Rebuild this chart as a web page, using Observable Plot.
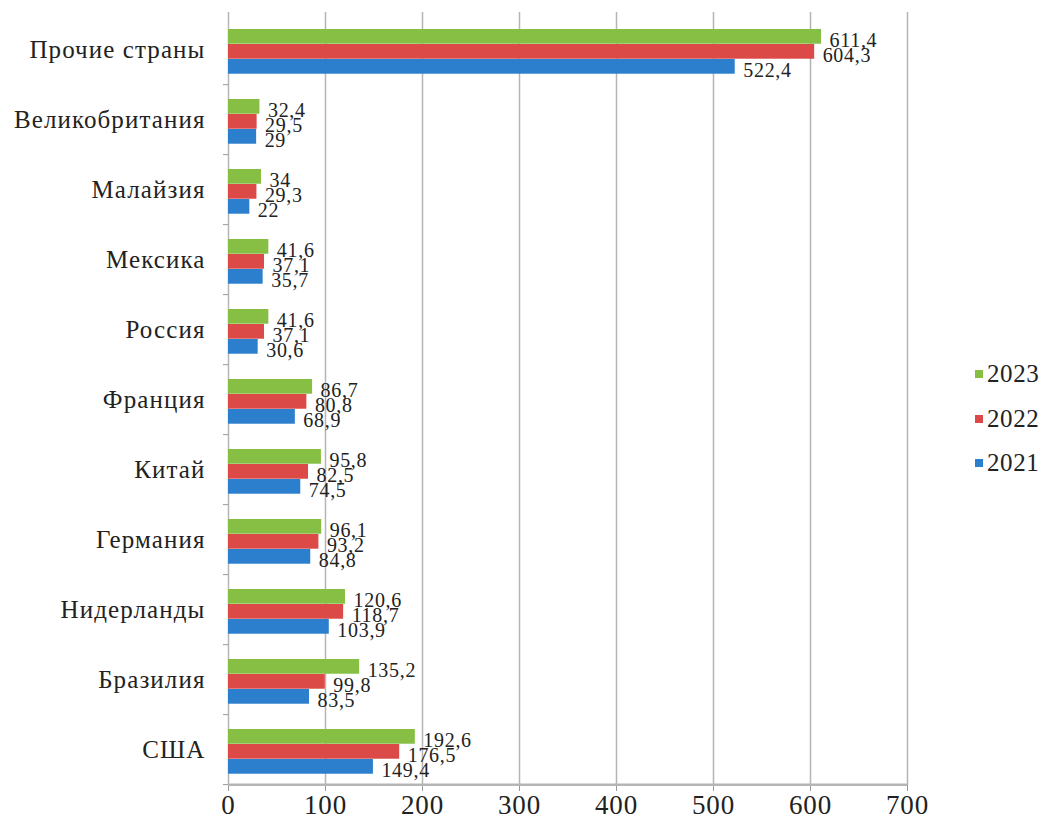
<!DOCTYPE html>
<html><head><meta charset="utf-8">
<script src="https://cdn.jsdelivr.net/npm/d3@7"></script>
<script src="https://cdn.jsdelivr.net/npm/@observablehq/plot@0.6"></script>
<style>
body{margin:0;background:#fff;font-family:'Liberation Serif',serif;overflow:hidden;}
#wrap{position:relative;width:1046px;height:835px;}
#chart svg, #chart svg text{font-family:'Liberation Serif',serif !important;}
#chart svg g[aria-label="y-axis tick label"] text{letter-spacing:1.1px;}
#chart svg g[aria-label="x-axis tick label"] text{letter-spacing:0.8px;}
#chart svg g.vlabels text{letter-spacing:0.7px;}
#legend{position:absolute;left:975px;top:352px;font-size:25px;color:#222;white-space:nowrap;letter-spacing:0.6px;}
#legend div{display:flex;align-items:center;height:44.5px;}
#legend span.sw{display:inline-block;width:8px;height:8px;margin-right:4px;}
</style></head>
<body><div id="wrap"><div id="chart"></div><div id="legend"></div></div>
<script>
const countries = ["Прочие страны","Великобритания","Малайзия","Мексика","Россия","Франция","Китай","Германия","Нидерланды","Бразилия","США"];
const v2021 = [522.4, 29, 22, 35.7, 30.6, 68.9, 74.5, 84.8, 103.9, 83.5, 149.4];
const v2022 = [604.3, 29.5, 29.3, 37.1, 37.1, 80.8, 82.5, 93.2, 118.7, 99.8, 176.5];
const v2023 = [611.4, 32.4, 34, 41.6, 41.6, 86.7, 95.8, 96.1, 120.6, 135.2, 192.6];
const years = ["2023","2022","2021"];
const colors = {"2023":"#86bf43","2022":"#dc4a48","2021":"#2c7fcc"};
const xTicks = [0,100,200,300,400,500,600,700];

const series = {"2021":v2021,"2022":v2022,"2023":v2023};
const data = [];
for (const y of years) countries.forEach((c,i)=>data.push({country:c, year:y, value:series[y][i]}));

const W=1046,H=835,mt=12,mb=50,ml=228,mr=139;
const bh=(H-mt-mb)/countries.length;
const barH=15, topPad=15;
const fmt = v => String(v).replace(".",",");

const grid = [
  Plot.ruleX(xTicks.filter(t=>t>0), {x:d=>d, stroke:"#b5b5b5", strokeWidth:1.5}),
  Plot.ruleX([0], {stroke:"#b5b5b5", strokeWidth:1.5}),
];
const bars = [], labels = [];
years.forEach((y,k)=>{
  const d = data.filter(r=>r.year===y);
  bars.push(Plot.barX(d,{x:"value", y:"country", fill:colors[y],
    insetTop: topPad + k*barH, insetBottom: bh - topPad - (k+1)*barH}));
  labels.push(Plot.text(d,{x:"value", y:"country", text:r=>fmt(r.value), textAnchor:"start",
    dx:8, dy: -bh/2 + topPad + (k+0.5)*barH + 4, fontSize:20, fill:"#222", className:"vlabels"}));
});

const chart = Plot.plot({
  width:W, height:H, marginTop:mt, marginBottom:mb, marginLeft:ml, marginRight:mr,
  style:{background:"#fff", color:"#222"},
  x:{domain:[0,700], ticks:xTicks},
  y:{domain:countries, padding:0, label:null},
  marks:[
    ...grid,
    Plot.axisX({ticks:xTicks, tickSize:6, fontSize:27, label:null, stroke:"#999", tickPadding:3}),
    Plot.axisY({tickSize:0, tickPadding:23, fontSize:25, label:null}),
    Plot.axisY({tickSize:5, tickFormat:()=>"", dy:bh/2, label:null, stroke:"#999"}),
    ...bars,
    ...labels,
    Plot.ruleY([countries[countries.length-1]],{y:d=>d, dy:bh/2, x1:0, x2:700, stroke:"#b5b5b5", strokeWidth:2.5})
  ]
});
document.getElementById("chart").appendChild(chart);
const lg = document.getElementById("legend");
for (const y of years) {
  const row = document.createElement("div");
  row.innerHTML = `<span class="sw" style="background:${colors[y]}"></span>${y}`;
  lg.appendChild(row);
}
</script></body></html>
